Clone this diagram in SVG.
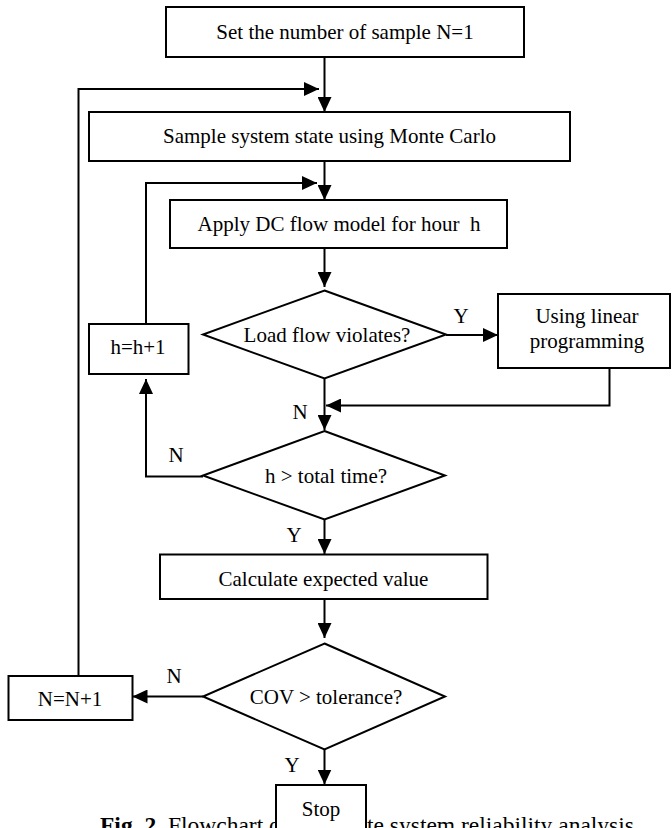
<svg xmlns="http://www.w3.org/2000/svg" width="672" height="828" viewBox="0 0 672 828">
<style>
  .box{fill:#fff;stroke:#000;stroke-width:2}
  .dia{fill:#fff;stroke:#000;stroke-width:2;stroke-linejoin:miter}
  .t{font-family:"Liberation Serif","Times New Roman",serif;font-size:21px;fill:#000;text-anchor:middle}
  .lbl{font-family:"Liberation Serif","Times New Roman",serif;font-size:21px;fill:#000;text-anchor:middle}
  .cap{font-family:"Liberation Serif","Times New Roman",serif;font-size:23.5px;fill:#000}
  .c{fill:none;stroke:#000;stroke-width:2}
</style>
<defs>
  <marker id="ah" markerUnits="userSpaceOnUse" markerWidth="15" markerHeight="14" refX="15" refY="7" orient="auto">
    <path d="M0,0 L15,7 L0,14 z" fill="#000"/>
  </marker>
</defs>
<rect x="0" y="0" width="672" height="828" fill="#fff"/>
<text class="cap" x="100" y="833"><tspan font-weight="bold">Fig. 2.</tspan> Flowchart o</text>
<text class="cap" x="367" y="833">te system reliability analysis</text>
<g id="connectors">
  <path class="c" d="M324.5,57 V112" marker-end="url(#ah)"/>
  <path class="c" d="M78.5,676 V89 H319" marker-end="url(#ah)"/>
  <path class="c" d="M324.5,161 V200" marker-end="url(#ah)"/>
  <path class="c" d="M146,324 V183 H317" marker-end="url(#ah)"/>
  <path class="c" d="M324.5,248 V287" marker-end="url(#ah)"/>
  <path class="c" d="M446,335 H498" marker-end="url(#ah)"/>
  <path class="c" d="M609.5,368 V405.5 H326" marker-end="url(#ah)"/>
  <path class="c" d="M324.5,378.5 V430" marker-end="url(#ah)"/>
  <path class="c" d="M203,476.5 H146 V379" marker-end="url(#ah)"/>
  <path class="c" d="M324.5,519.5 V554" marker-end="url(#ah)"/>
  <path class="c" d="M324.5,599 V638" marker-end="url(#ah)"/>
  <path class="c" d="M203,696.5 H132.5" marker-end="url(#ah)"/>
  <path class="c" d="M324.5,749.5 V784.5" marker-end="url(#ah)"/>
  <text class="lbl" x="461" y="323">Y</text>
  <text class="lbl" x="300" y="419">N</text>
  <text class="lbl" x="176" y="462">N</text>
  <text class="lbl" x="294" y="542">Y</text>
  <text class="lbl" x="174" y="683">N</text>
  <text class="lbl" x="292" y="772">Y</text>
</g>
<g id="n_start">
  <rect class="box" x="166" y="7" width="358" height="50"/>
  <text class="t" x="345" y="38.5">Set the number of sample N=1</text>
</g>
<g id="n_sample">
  <rect class="box" x="89" y="112" width="481" height="49"/>
  <text class="t" x="329.5" y="143">Sample system state using Monte Carlo</text>
</g>
<g id="n_apply">
  <rect class="box" x="170" y="200" width="337" height="48"/>
  <text class="t" x="339" y="231" xml:space="preserve">Apply DC flow model for hour  h</text>
</g>
<g id="d_load">
  <polygon class="dia" points="324.5,290.5 446,334.5 324.5,378.5 203,334.5"/>
  <text class="t" x="327" y="341.5">Load flow violates?</text>
</g>
<g id="n_lp">
  <rect class="box" x="498" y="294" width="172" height="74"/>
  <text class="t" x="587" y="323">Using linear</text>
  <text class="t" x="587" y="348">programming</text>
</g>
<g id="n_hinc">
  <rect class="box" x="89" y="324" width="99.5" height="50"/>
  <text class="t" x="138" y="354">h=h+1</text>
</g>
<g id="d_time">
  <polygon class="dia" points="324.5,431 445,475.5 324.5,519.5 203,475.5"/>
  <text class="t" x="326" y="482.5">h &gt; total time?</text>
</g>
<g id="n_calc">
  <rect class="box" x="160" y="554.5" width="327.5" height="44.5"/>
  <text class="t" x="323.5" y="586">Calculate expected value</text>
</g>
<g id="d_cov">
  <polygon class="dia" points="324.5,643.5 445,696.5 324.5,749.5 203,696.5"/>
  <text class="t" x="326" y="703.5">COV &gt; tolerance?</text>
</g>
<g id="n_ninc">
  <rect class="box" x="8.5" y="676" width="124" height="44"/>
  <text class="t" x="70" y="706">N=N+1</text>
</g>
<g id="n_stop">
  <rect class="box" x="276" y="785" width="90" height="60"/>
  <text class="t" x="321" y="816">Stop</text>
</g>
</svg>
